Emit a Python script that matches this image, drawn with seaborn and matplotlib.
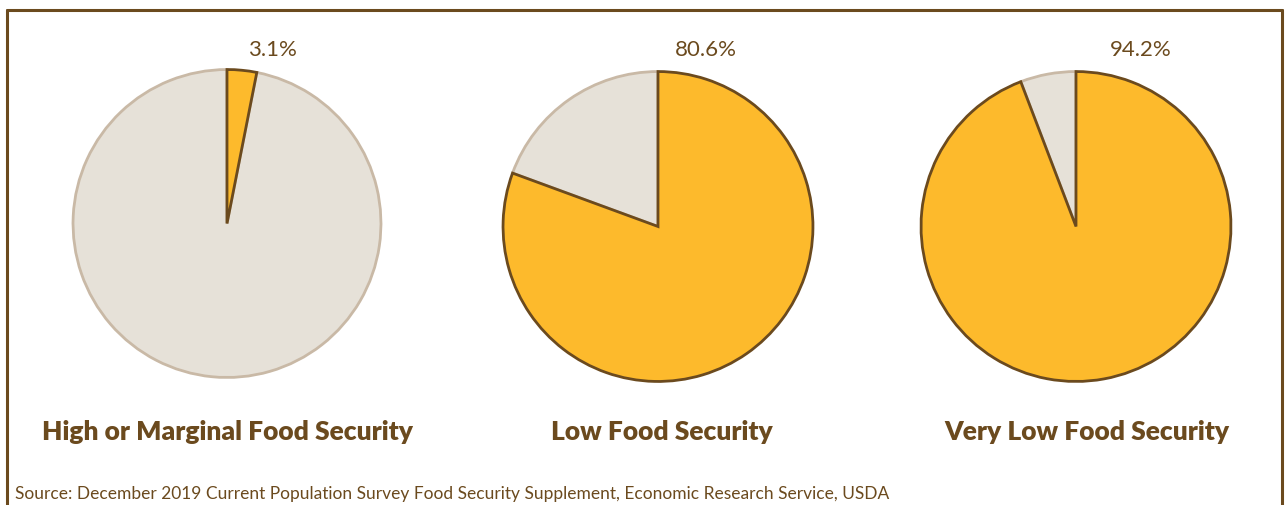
import matplotlib
matplotlib.use("Agg")
import matplotlib.pyplot as plt
import seaborn as sns
from matplotlib.lines import Line2D

categories = ["High or Marginal Food Security", "Low Food Security", "Very Low Food Security"]
share_pct = [3.1, 80.6, 94.2]
pct_labels = ["3.1%", "80.6%", "94.2%"]
source_text = "Source: December 2019 Current Population Survey Food Security Supplement, Economic Research Service, USDA"

sns.set_theme(style="white")
plt.rcParams['font.family'] = ['Lato', 'DejaVu Sans']

W, H = 1288, 506
YELLOW = "#FDBA2C"
GREY = "#E6E1D8"
GREY_EDGE = "#C9B9A6"
BROWN = "#6B4A1E"

fig = plt.figure(figsize=(W / 100, H / 100), dpi=100)
fig.patch.set_facecolor("white")

# layout (pixels): centers and radii of pies, label offsets
centers = [(227, 224.5, 155.5), (658, 227.5, 156.5), (1076, 227.5, 156.5)]
label_dx = [45, 48, 65]
title_x = [227, 662, 1087]

for i, (cx, cy, r) in enumerate(centers):
    ax = fig.add_axes([(cx - r) / W, (H - cy - r) / H, 2 * r / W, 2 * r / H])
    vals = [share_pct[i], 100 - share_pct[i]]
    wedges, _ = ax.pie(vals, colors=[YELLOW, GREY], startangle=90, counterclock=False,
                       radius=1, wedgeprops=dict(linewidth=2))
    wedges[0].set_edgecolor(BROWN)
    wedges[0].set_zorder(3)
    wedges[1].set_edgecolor(GREY_EDGE)
    wedges[1].set_zorder(2)
    ax.set_xlim(-1.01, 1.01)
    ax.set_ylim(-1.01, 1.01)
    ax.set_aspect("equal")
    ax.axis("off")
    fig.text((cx + label_dx[i]) / W, 1 - 50 / H, pct_labels[i], ha="center", va="center",
             fontsize=16, color=BROWN)
    fig.text(title_x[i] / W, 1 - 432 / H, categories[i], ha="center", va="center",
             fontsize=19, fontweight="heavy", color=BROWN)

fig.text(15 / W, 1 - 494 / H, source_text, ha="left", va="center", fontsize=12.5, color=BROWN)

# frame
lw = 2.2
fig.add_artist(Line2D([7 / W, 7 / W], [0, 1 - 11 / H], color=BROWN, lw=lw))
fig.add_artist(Line2D([1282 / W, 1282 / W], [0, 1 - 11 / H], color=BROWN, lw=lw))
fig.add_artist(Line2D([7 / W, 1282 / W], [1 - 11 / H, 1 - 11 / H], color=BROWN, lw=lw))

fig.savefig("out.png", dpi=100)
